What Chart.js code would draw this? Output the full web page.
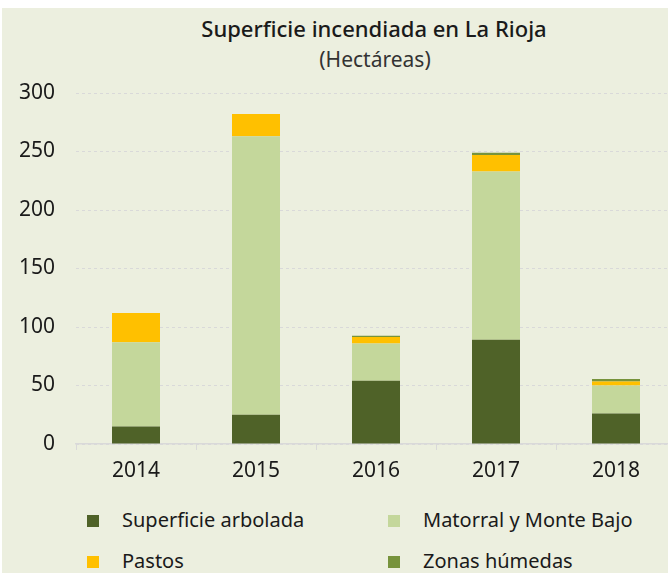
<!DOCTYPE html>
<html>
<head>
<meta charset="utf-8">
<title>Superficie incendiada en La Rioja</title>
<script src="https://cdn.jsdelivr.net/npm/chart.js@4.4.1/dist/chart.umd.min.js"></script>
<style>
  html, body { margin: 0; padding: 0; background: #fff; overflow: hidden; }
  body { width: 668px; height: 573px; position: relative; font-family: "Noto Sans", sans-serif; color: #1a1a1a; }
  .panel { position: absolute; left: 2px; top: 8px; right: 0; bottom: 0; background: #ECEFDF; }
  .title { position: absolute; left: 174px; width: 400px; text-align: center; top: 17px; font-size: 22px; line-height: 22px; font-weight: 500; }
  .subtitle { position: absolute; left: 175px; width: 400px; text-align: center; top: 49px; font-size: 21px; line-height: 21px; color: #333; }
  .chart-box { position: absolute; left: 0; top: 0; width: 700px; height: 490px; }
  .legend { position: absolute; left: 0; top: 0; font-size: 20px; line-height: 20px; }
  .legend-item { position: absolute; white-space: nowrap; }
  .legend-item span.box { position: absolute; left: 0; width: 12px; height: 12px; }
  .legend-item span.txt { position: absolute; white-space: nowrap; }
</style>
</head>
<body>
<div class="panel"></div>
<div class="title">Superficie incendiada en La Rioja</div>
<div class="subtitle">(Hectáreas)</div>
<div class="chart-box"><canvas id="chart" width="700" height="490"></canvas></div>
<div class="legend" id="legend"></div>

<script>
// data
const years = ['2014', '2015', '2016', '2017', '2018'];
const arbolada = [15, 25, 54, 89, 26];
const matorral = [72, 238, 32, 144, 24];
const pastos = [25, 19, 5.5, 14, 3.5];
const humedas = [0, 0, 1, 2, 2];
const yTicks = [0, 50, 100, 150, 200, 250, 300];

const seriesNames = ['Superficie arbolada', 'Matorral y Monte Bajo', 'Pastos', 'Zonas húmedas'];
const seriesColors = ['#4F6228', '#C4D79B', '#FFC000', '#77933C'];
const seriesData = [arbolada, matorral, pastos, humedas];

const font = { family: '"Noto Sans", sans-serif', size: 21 };

new Chart(document.getElementById('chart'), {
  type: 'bar',
  data: {
    labels: years,
    datasets: seriesData.map((d, i) => ({
      label: seriesNames[i],
      data: d,
      backgroundColor: seriesColors[i],
      borderWidth: 0,
      barPercentage: 0.4,
      categoryPercentage: 1
    }))
  },
  options: {
    responsive: false,
    animation: false,
    layout: { padding: { top: 93, left: 0, right: 24, bottom: 0 } },
    plugins: {
      legend: { display: false },
      tooltip: { enabled: false }
    },
    scales: {
      x: {
        stacked: true,
        grid: { drawOnChartArea: false, drawTicks: true, tickLength: 6, color: '#D9D9D9', offset: true },
        border: { color: '#D9D9D9', width: 1.5 },
        ticks: { color: '#1a1a1a', font: font, padding: 8 },
        afterFit: s => { s.height = 46; }
      },
      y: {
        stacked: true,
        min: 0,
        max: 300,
        afterBuildTicks: s => { s.ticks = yTicks.map(v => ({ value: v })); },
        grid: { drawTicks: false, color: '#D9D9D9', lineWidth: 1 },
        border: { display: false, dash: [3, 3] },
        ticks: { color: '#1a1a1a', font: font, padding: 21 },
        afterFit: s => { s.width = 76; }
      }
    }
  }
});

// legend: 2 columns, built from the series arrays
const legendPos = [[87, 521], [388, 521], [87, 562], [388, 562]];
const legend = document.getElementById('legend');
seriesNames.forEach((name, i) => {
  const item = document.createElement('div');
  item.className = 'legend-item';
  item.style.left = legendPos[i][0] + 'px';
  item.style.top = legendPos[i][1] + 'px';
  item.innerHTML = '<span class="box" style="top:-6px;background:' + seriesColors[i] + '"></span>' +
    '<span class="txt" style="left:35px;top:-11px">' + name + '</span>';
  legend.appendChild(item);
});
</script>
</body>
</html>
